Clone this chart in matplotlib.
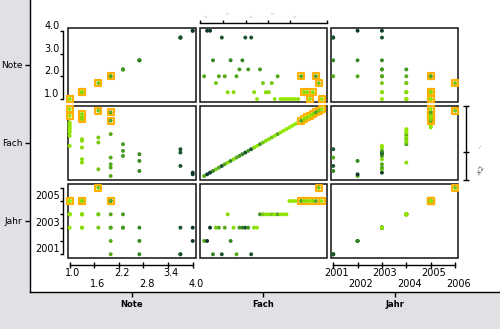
import numpy as np
import matplotlib
matplotlib.use("Agg")
import matplotlib.pyplot as plt
from matplotlib.colors import LinearSegmentedColormap
from matplotlib.patches import Rectangle

# Course records, ordered by subject code (Fach)
fach = list(range(1, 42))
note = [2.0, 4.0, 4.0, 2.7, 1.7, 2.0, 3.7, 2.0, 1.3, 2.7,
        1.3, 2.0, 2.3, 2.7, 3.7, 2.3, 3.7, 1.3, 1.0, 2.3,
        1.7, 1.3, 1.3, 1.7, 1.0, 2.0, 1.0, 1.0, 1.0, 1.0,
        1.0, 1.0, 1.0, 2.0, 1.3, 1.3, 1.0, 1.3, 2.0, 1.7, 1.0]
jahr = [2002, 2002, 2003, 2001, 2003, 2003, 2001, 2003, 2004, 2002,
        2003, 2001, 2003, 2003, 2003, 2003, 2001, 2003, 2003, 2004,
        2004, 2004, 2004, 2004, 2004, 2004, 2004, 2004, 2004, 2005,
        2005, 2005, 2005, 2005, 2005, 2005, 2005, 2005, 2005, 2006, 2005]
selected = [0] * 33 + [1] * 8

variables = ["Note", "Fach", "Jahr"]
note_ticks = [1.0, 2.0, 3.0, 4.0]
note_bottom_ticks = [1.0, 1.6, 2.2, 2.8, 3.4, 4.0]
jahr_ticks = [2001, 2002, 2003, 2004, 2005, 2006]

data = {"Note": np.array(note), "Fach": np.array(fach), "Jahr": np.array(jahr)}
sel = np.array(selected, dtype=bool)

# colour follows the grade: lime for good grades, dark green for poor ones
cmap = LinearSegmentedColormap.from_list(
    "grade",
    [(0.0, "#92e600"), (0.1, "#86dc00"), (0.233, "#74c810"), (0.333, "#54a81a"),
     (0.433, "#449820"), (0.567, "#358622"), (0.9, "#18522f"), (1.0, "#0d3a2c")])
colors = cmap((data["Note"] - 1.0) / 3.0)

xlims = {"Note": (0.96, 4.08), "Fach": (-0.59, 42.8), "Jahr": (2000.91, 2006.12)}
ylims = {"Note": (0.87, 4.12), "Fach": (-1.39, 42.8), "Jahr": (2000.72, 2006.28)}

W, H = 500, 329
fig = plt.figure(figsize=(W / 100, H / 100), dpi=100, facecolor="#e0e0e5")
plt.rcParams["font.family"] = "DejaVu Sans"


def px_axes(x0, y0, x1, y1):
    return fig.add_axes([x0 / W, 1 - y1 / H, (x1 - x0) / W, (y1 - y0) / H])


col_px = [(68, 196), (199.5, 327), (331, 458)]
row_px = [(28, 102), (106, 180), (184, 258)]

# outer frame with the variable names
outer = px_axes(30, 0, 500, 292)
outer.set_facecolor("white")
outer.set_xlim(30, 500)
outer.set_ylim(292, 0)
for s in ["top", "right"]:
    outer.spines[s].set_visible(False)
for s in ["left", "bottom"]:
    outer.spines[s].set_linewidth(1.0)
outer.set_xticks([(a + b) / 2 for a, b in col_px])
outer.set_xticklabels(variables, fontsize=6, fontweight="bold")
outer.set_yticks([(a + b) / 2 for a, b in row_px])
outer.set_yticklabels(variables, fontsize=6.5)
outer.tick_params(direction="out", length=3.6, width=1, pad=2)


def bottom_labels(ax, ticks, labels):
    for k, (t, lab) in enumerate(zip(ticks, labels)):
        ax.annotate(lab, xy=(t, 0), xycoords=("data", "axes fraction"),
                    xytext=(2.2, -7.4 - (k % 2) * 8.0), textcoords="offset points",
                    ha="center", va="top", fontsize=7, annotation_clip=False)


for r, vy in enumerate(variables):
    for c, vx in enumerate(variables):
        ax = px_axes(col_px[c][0], row_px[r][0], col_px[c][1], row_px[r][1])
        ax.set_facecolor("white")
        ax.set_xlim(*xlims[vx])
        ax.set_ylim(*ylims[vy])
        ax.set_xticks([])
        ax.set_yticks([])
        for s in ax.spines.values():
            s.set_visible(False)
        ax.add_patch(Rectangle((0, 0), 1, 1, transform=ax.transAxes, fill=False,
                               lw=1.1, ec="#111111", zorder=2, clip_on=False))

        xs, ys = data[vx], data[vy]
        ax.scatter(xs, ys, s=8, c=colors, linewidths=0, zorder=3, clip_on=False)
        ax.scatter(xs[sel], ys[sel], s=24, marker="s", facecolors="#fffbe6",
                   edgecolors="#ffb000", linewidths=1.5, zorder=4, clip_on=False)
        ax.scatter(xs[sel], ys[sel], s=8, c=colors[sel], linewidths=0,
                   zorder=5, clip_on=False)

        if c == 0 and vy in ("Note", "Jahr"):
            sp = ax.spines["left"]
            sp.set_visible(True)
            sp.set_position(("outward", 3.6))
            sp.set_linewidth(1.0)
            if vy == "Note":
                sp.set_bounds(1.0, 4.0)
                ax.set_yticks(note_ticks)
                ax.set_yticklabels([f"{t:.1f}" for t in note_ticks], fontsize=7)
            else:
                sp.set_bounds(2001, 2006)
                ax.set_yticks(jahr_ticks)
                ax.set_yticklabels([str(t) if t % 2 else "" for t in jahr_ticks],
                                   fontsize=7)
            ax.tick_params(axis="y", direction="out", length=2.5, width=1, pad=0)
            for t in ax.get_yticklabels():
                t.set_va("bottom")

        if r == 2 and vx in ("Note", "Jahr"):
            sp = ax.spines["bottom"]
            sp.set_visible(True)
            sp.set_position(("outward", 5))
            sp.set_linewidth(1.0)
            if vx == "Note":
                ticks = note_bottom_ticks
                labels = [f"{t:.1f}" for t in ticks]
            else:
                ticks = jahr_ticks
                labels = [str(t) for t in ticks]
            sp.set_bounds(ticks[0], ticks[-1])
            ax.set_xticks(ticks)
            ax.set_xticklabels([])
            ax.tick_params(axis="x", direction="inout", length=4, width=1)
            bottom_labels(ax, ticks, labels)

        if r == 0 and vx == "Fach":
            sp = ax.spines["top"]
            sp.set_visible(True)
            sp.set_position(("outward", 3.6))
            sp.set_linewidth(1.0)
            top_ticks = [-0.25, 7.4, 15.1, 22.7, 30.3, 42.7]
            sp.set_bounds(top_ticks[0], top_ticks[-1])
            ax.xaxis.set_ticks_position("top")
            ax.set_xticks(top_ticks)
            ax.set_xticklabels([])
            ax.tick_params(axis="x", direction="out", length=2.5, width=1)
            for k, t in enumerate(top_ticks[:-1]):
                ax.annotate("·:", xy=(t, 1), xycoords=("data", "axes fraction"),
                            xytext=(1.5, 7.5 + (k % 2) * 2.5), textcoords="offset points",
                            fontsize=3.5, rotation=60, color="#555555",
                            annotation_clip=False)

        if c == 2 and vy == "Fach":
            sp = ax.spines["right"]
            sp.set_visible(True)
            sp.set_position(("outward", 5.5))
            sp.set_linewidth(1.0)
            lo, hi = ylims["Fach"]
            sp.set_bounds(lo, hi)
            ax.yaxis.set_ticks_position("right")
            ax.set_yticks([lo, 15.5, hi])
            ax.set_yticklabels([])
            ax.tick_params(axis="y", direction="inout", length=4, width=1)

fig.text(480 / W, 1 - 147 / H, "···", fontsize=4, rotation=60, color="#555555",
         ha="center", va="center")
fig.text(481 / W, 1 - 170 / H, "-x2", fontsize=5, rotation=60, color="#555555",
         ha="center", va="center")

fig.savefig("out.png", dpi=100, facecolor=fig.get_facecolor())
